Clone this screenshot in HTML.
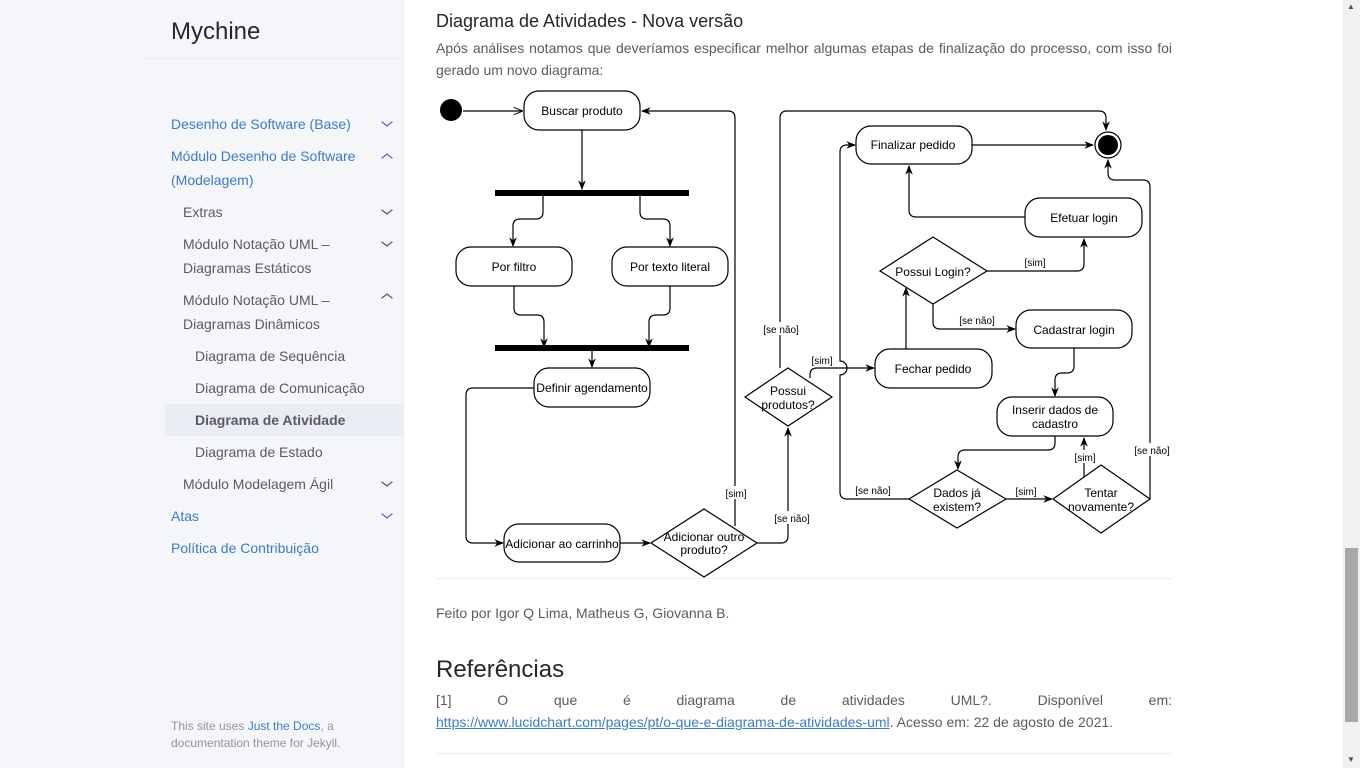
<!DOCTYPE html>
<html><head><meta charset="utf-8"><style>
*{margin:0;padding:0;box-sizing:border-box}
body{width:1360px;height:768px;overflow:hidden;background:#fff;font-family:"Liberation Sans",Arial,sans-serif;position:relative;color:#5c5962}
.side{position:absolute;left:0;top:0;width:404px;height:768px;background:#f5f6fa;border-right:1px solid #eeebee}
.t{position:absolute;white-space:nowrap}
.nav{font-size:14px;line-height:24px}
.p{position:absolute;left:436px;width:736px;font-size:14px;line-height:22px;color:#5c5962;text-align:justify}
</style></head><body>
<div class="side"></div>
<div style="position:absolute;left:140px;top:58px;width:264px;height:1px;background:#eeebee"></div>
<div class="t" style="left:171px;top:18px;font-size:24px;color:#27262b">Mychine</div>
<div style="position:absolute;left:165px;top:404px;width:238px;height:32px;background:#ebedf5"></div>
<div class="t nav" style="left:171px;top:112px;color:#3c7cc4">Desenho de Software (Base)</div>
<div class="t nav" style="left:171px;top:144px;color:#3c7cc4">Módulo Desenho de Software</div>
<div class="t nav" style="left:171px;top:168px;color:#3c7cc4">(Modelagem)</div>
<div class="t nav" style="left:183px;top:200px">Extras</div>
<div class="t nav" style="left:183px;top:232px">Módulo Notação UML –</div>
<div class="t nav" style="left:183px;top:256px">Diagramas Estáticos</div>
<div class="t nav" style="left:183px;top:288px">Módulo Notação UML –</div>
<div class="t nav" style="left:183px;top:312px">Diagramas Dinâmicos</div>
<div class="t nav" style="left:195px;top:344px">Diagrama de Sequência</div>
<div class="t nav" style="left:195px;top:376px">Diagrama de Comunicação</div>
<div class="t nav" style="left:195px;top:408px;font-weight:bold">Diagrama de Atividade</div>
<div class="t nav" style="left:195px;top:440px">Diagrama de Estado</div>
<div class="t nav" style="left:183px;top:472px">Módulo Modelagem Ágil</div>
<div class="t nav" style="left:171px;top:504px;color:#3c7cc4">Atas</div>
<div class="t nav" style="left:171px;top:536px;color:#3c7cc4">Política de Contribuição</div>
<div class="t" style="left:171px;top:718px;font-size:12px;line-height:17px;color:#959396">This site uses <span style="color:#3c7cc4">Just the Docs</span>, a<br>documentation theme for Jekyll.</div>
<svg style="position:absolute;left:0;top:0" width="1360" height="768" fill="none" stroke-width="1.3" stroke-linecap="round" stroke-linejoin="round">
<g stroke="#7253ed"><path d="M382 122l5 4 5-4M382 514l5 4 5-4"/><path d="M382 158l5-4 5 4"/></g>
<g stroke="#5c5962"><path d="M382 210l5 4 5-4M382 242l5 4 5-4M382 298l5-4 5 4M382 482l5 4 5-4"/></g>
</svg>
<div class="t" style="left:436px;top:11px;font-size:18px;color:#27262b">Diagrama de Atividades - Nova versão</div>
<div class="p" style="top:37px">Após análises notamos que deveríamos especificar melhor algumas etapas de finalização do processo, com isso foi gerado um novo diagrama:</div>
<svg style="position:absolute;left:0;top:0" width="1360" height="768" font-family="Liberation Sans, Arial, sans-serif" font-size="12">
<defs><marker id="a" viewBox="0 0 10 10" refX="9" refY="5" markerWidth="8" markerHeight="8" orient="auto"><path d="M0 1L10 5L0 9L3 5z" fill="#000"/></marker>
<marker id="o" viewBox="0 0 10 10" refX="9" refY="5" markerWidth="8" markerHeight="8" orient="auto"><path d="M0 1L10 5L0 9" fill="none" stroke="#000"/></marker></defs>
<g stroke="#000" stroke-width="1.2" fill="none">
<path d="M463 111H522" marker-end="url(#o)"/>
<path d="M582 130V189" marker-end="url(#a)"/>
<path d="M543 196V212q0 7-7 7h-16q-7 0-7 7V246" marker-end="url(#a)"/>
<path d="M640 196V212q0 7 7 7h16q7 0 7 7V246" marker-end="url(#a)"/>
<path d="M514 286V308q0 7 7 7h16q7 0 7 7V347" marker-end="url(#a)"/>
<path d="M670 286V308q0 7-7 7h-7q-7 0-7 7V347" marker-end="url(#a)"/>
<path d="M592 351V367" marker-end="url(#a)"/>
<path d="M534 388H473q-7 0-7 7V536q0 7 7 7H503" marker-end="url(#a)"/>
<path d="M620 543H650" marker-end="url(#a)"/>
<path d="M735 526V118q0-7-7-7H642" marker-end="url(#a)"/>
<path d="M757 543H781q7 0 7-7V428" marker-end="url(#a)"/>
<path d="M780 368V118q0-7 7-7H1099q7 0 7 7V130" marker-end="url(#a)"/>
<path d="M810 378V375q0-7 7-7H874" marker-end="url(#a)"/>
<path d="M909 499H847q-7 0-7-7V375a6 6 0 0 0 0-14V152q0-7 7-7H855" marker-end="url(#a)"/>
<path d="M906 349V288" marker-end="url(#a)"/>
<path d="M987 271H1077q7 0 7-7V239" marker-end="url(#a)"/>
<path d="M933 304V322q0 7 7 7H1015" marker-end="url(#a)"/>
<path d="M1025 217H916q-7 0-7-7V166" marker-end="url(#a)"/>
<path d="M972 145H1093" marker-end="url(#a)"/>
<path d="M1074 348V366q0 7-7 7h-5q-7 0-7 7V396" marker-end="url(#a)"/>
<path d="M1055 436V443q0 7-7 7H965q-7 0-7 7V469" marker-end="url(#a)"/>
<path d="M1006 499H1052" marker-end="url(#a)"/>
<path d="M1084 477V438" marker-end="url(#a)"/>
<path d="M1150 499V187q0-7-7-7h-28q-7 0-7-7V160" marker-end="url(#a)"/>
</g>
<circle cx="451" cy="110" r="11" fill="#000"/>
<circle cx="1108" cy="145" r="13" fill="#fff" stroke="#000" stroke-width="1.2"/>
<circle cx="1108" cy="145" r="10" fill="#000"/>
<rect x="495" y="190" width="194" height="6" fill="#000"/>
<rect x="495" y="345" width="194" height="6" fill="#000"/>
<g fill="#fff" stroke="#000" stroke-width="1.2">
<rect x="524" y="91" width="116" height="39" rx="15"/>
<rect x="456" y="247" width="116" height="39" rx="15"/>
<rect x="612" y="247" width="116" height="39" rx="15"/>
<rect x="534" y="368" width="116" height="39" rx="15"/>
<rect x="504" y="524" width="116" height="38" rx="15"/>
<rect x="856" y="126" width="116" height="38" rx="15"/>
<rect x="1025" y="198" width="117" height="39" rx="15"/>
<rect x="1016" y="310" width="116" height="38" rx="15"/>
<rect x="875" y="349" width="117" height="39" rx="15"/>
<rect x="997" y="397" width="116" height="39" rx="15"/>
<path d="M704 509L757 543L704 577L651 543Z"/>
<path d="M788 368L832 397L788 426L745 397Z"/>
<path d="M933 237L987 271L933 304L880 271Z"/>
<path d="M957 470L1006 499L957 528L909 499Z"/>
<path d="M1101 465L1150 499L1101 533L1053 499Z"/>
</g>
<g fill="#000" text-anchor="middle">
<text x="582" y="115">Buscar produto</text>
<text x="514" y="271">Por filtro</text>
<text x="670" y="271">Por texto literal</text>
<text x="592" y="392">Definir agendamento</text>
<text x="562" y="548">Adicionar ao carrinho</text>
<text x="704" y="541">Adicionar outro</text><text x="704" y="554">produto?</text>
<text x="788" y="395">Possui</text><text x="788" y="409">produtos?</text>
<text x="913" y="149">Finalizar pedido</text>
<text x="1084" y="222">Efetuar login</text>
<text x="933" y="276">Possui Login?</text>
<text x="1074" y="334">Cadastrar login</text>
<text x="933" y="373">Fechar pedido</text>
<text x="1055" y="414">Inserir dados de</text><text x="1055" y="428">cadastro</text>
<text x="957" y="497">Dados já</text><text x="957" y="511">existem?</text>
<text x="1101" y="497">Tentar</text><text x="1101" y="511">novamente?</text>
</g>
<g fill="#000" font-size="10" text-anchor="middle">
<rect x="723" y="486" width="26" height="13" fill="#fff"/><text x="736" y="497">[sim]</text>
<rect x="772" y="511" width="40" height="13" fill="#fff"/><text x="792" y="522">[se não]</text>
<rect x="760" y="322" width="40" height="13" fill="#fff"/><text x="781" y="333">[se não]</text>
<text x="822" y="364">[sim]</text>
<text x="1035" y="266">[sim]</text>
<text x="977" y="324">[se não]</text>
<text x="873" y="494">[se não]</text>
<text x="1026" y="495">[sim]</text>
<rect x="1072" y="450" width="26" height="13" fill="#fff"/><text x="1085" y="461">[sim]</text>
<rect x="1132" y="443" width="40" height="13" fill="#fff"/><text x="1152" y="454">[se não]</text>
</g>
<rect x="436" y="578" width="736" height="1" fill="#eeebee"/>
<rect x="436" y="753" width="736" height="1" fill="#eeebee"/>
</svg>
<div class="t" style="left:436px;top:604px;font-size:14px;line-height:18px">Feito por Igor Q Lima, Matheus G, Giovanna B.</div>
<div class="t" style="left:436px;top:656px;font-size:24px;color:#27262b">Referências</div>
<div class="p" style="top:689px;text-align-last:justify">[1] O que é diagrama de atividades UML?. Disponível em:</div>
<div class="t" style="left:436px;top:711px;font-size:14px;line-height:22px"><span style="color:#3c7cc4;text-decoration:underline">https://www.lucidchart.com/pages/pt/o-que-e-diagrama-de-atividades-uml</span>. Acesso em: 22 de agosto de 2021.</div>
<div style="position:absolute;left:1343px;top:0;width:17px;height:768px;background:#f1f1f1"></div>
<div style="position:absolute;left:1345px;top:548px;width:13px;height:174px;background:#a8a8a8"></div>
<div class="t" style="left:1347px;top:2px;font-size:8px;color:#505050">▲</div>
<div class="t" style="left:1347px;top:755px;font-size:8px;color:#505050">▼</div>
</body></html>
